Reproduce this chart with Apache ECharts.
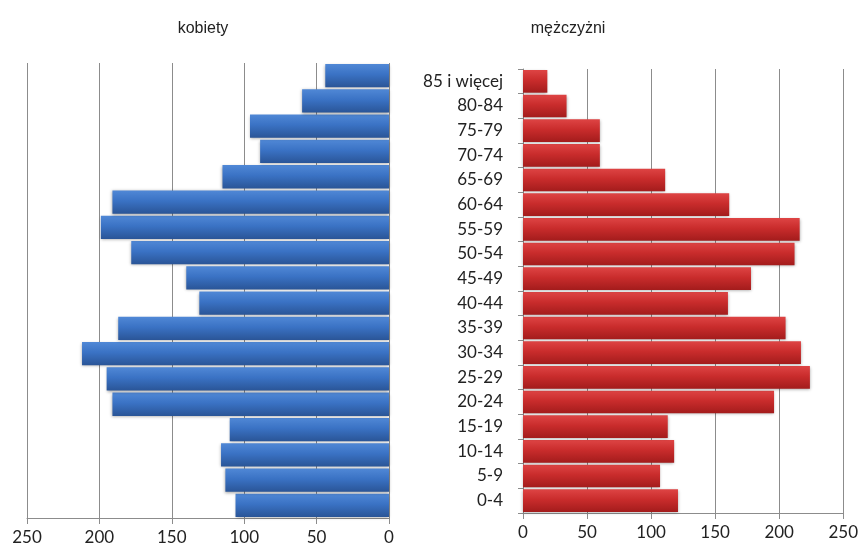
<!DOCTYPE html>
<html>
<head>
<meta charset="utf-8">
<script src="https://cdn.jsdelivr.net/npm/echarts@6/dist/echarts.min.js"></script>
<style>
html,body{margin:0;padding:0;background:#fff;}
#chart{width:861px;height:548px;}
</style>
</head>
<body>
<div id="chart"></div>
<script>
var categories = ['0-4','5-9','10-14','15-19','20-24','25-29','30-34','35-39','40-44','45-49','50-54','55-59','60-64','65-69','70-74','75-79','80-84','85 i więcej'];
var kobiety = [106, 113, 116, 110, 191, 195, 212, 187, 131, 140, 178, 199, 191, 115, 89, 96, 60, 44];
var mezczyzni = [121, 107, 118, 113, 196, 224, 217, 205, 160, 178, 212, 216, 161, 111, 60, 60, 34, 19];
var xTicks = [0, 50, 100, 150, 200, 250];

var chart = echarts.init(document.getElementById('chart'));
var font = 'Lato, "Open Sans", sans-serif';
var blue = new echarts.graphic.LinearGradient(0,0,0,1,[
  {offset:0,color:'#5088d6'},{offset:0.45,color:'#3a72c4'},{offset:1,color:'#2a5597'}]);
var red = new echarts.graphic.LinearGradient(0,0,0,1,[
  {offset:0,color:'#de4444'},{offset:0.45,color:'#c92c2c'},{offset:1,color:'#a31c1c'}]);

function xAxis(gi, inverse){
  return {
    gridIndex: gi, type:'value', min:xTicks[0], max:xTicks[xTicks.length-1], interval:50, inverse: inverse,
    axisLine:{show:true, lineStyle:{color:'#8c8c8c', width:1}},
    axisTick:{show:true, length:6, lineStyle:{color:'#8c8c8c'}},
    axisLabel:{color:'#222', fontSize:17, fontFamily:font, margin:11},
    splitLine:{show:true, lineStyle:{color:'#8c8c8c', width:1}}
  };
}

chart.setOption({
  animation:false,
  backgroundColor:'#fff',
  title:[
    {text:'kobiety', left:198, top:16, textAlign:'center', textStyle:{fontSize:16, fontWeight:'normal', color:'#222', fontFamily:'"Liberation Sans", Arial, sans-serif'}},
    {text:'mężczyżni', left:563, top:16, textAlign:'center', textStyle:{fontSize:16, fontWeight:'normal', color:'#222', fontFamily:'"Liberation Sans", Arial, sans-serif'}}
  ],
  grid:[
    {left:27, right:861-389, top:63, bottom:548-518},
    {left:523, right:861-845, top:69, bottom:548-513}
  ],
  xAxis:[xAxis(0,true), xAxis(1,false)],
  yAxis:[
    {gridIndex:0, type:'category', data:categories, axisLabel:{show:false}, axisTick:{show:false},
     axisLine:{show:false}, splitLine:{show:false}},
    {gridIndex:1, type:'category', data:categories,
     axisLine:{show:true, lineStyle:{color:'#8c8c8c'}},
     axisTick:{show:true, length:5, lineStyle:{color:'#8c8c8c'}},
     axisLabel:{color:'#222', fontSize:17, fontFamily:font, margin:20}}
  ],
  series:[
    {type:'bar', xAxisIndex:0, yAxisIndex:0, data:kobiety, barCategoryGap:'8%',
     itemStyle:{color:blue, shadowColor:'rgba(0,0,0,0.35)', shadowBlur:3, shadowOffsetY:1}},
    {type:'bar', xAxisIndex:1, yAxisIndex:1, data:mezczyzni, barCategoryGap:'8%',
     itemStyle:{color:red, shadowColor:'rgba(0,0,0,0.35)', shadowBlur:3, shadowOffsetY:1}}
  ]
});
</script>
</body>
</html>
